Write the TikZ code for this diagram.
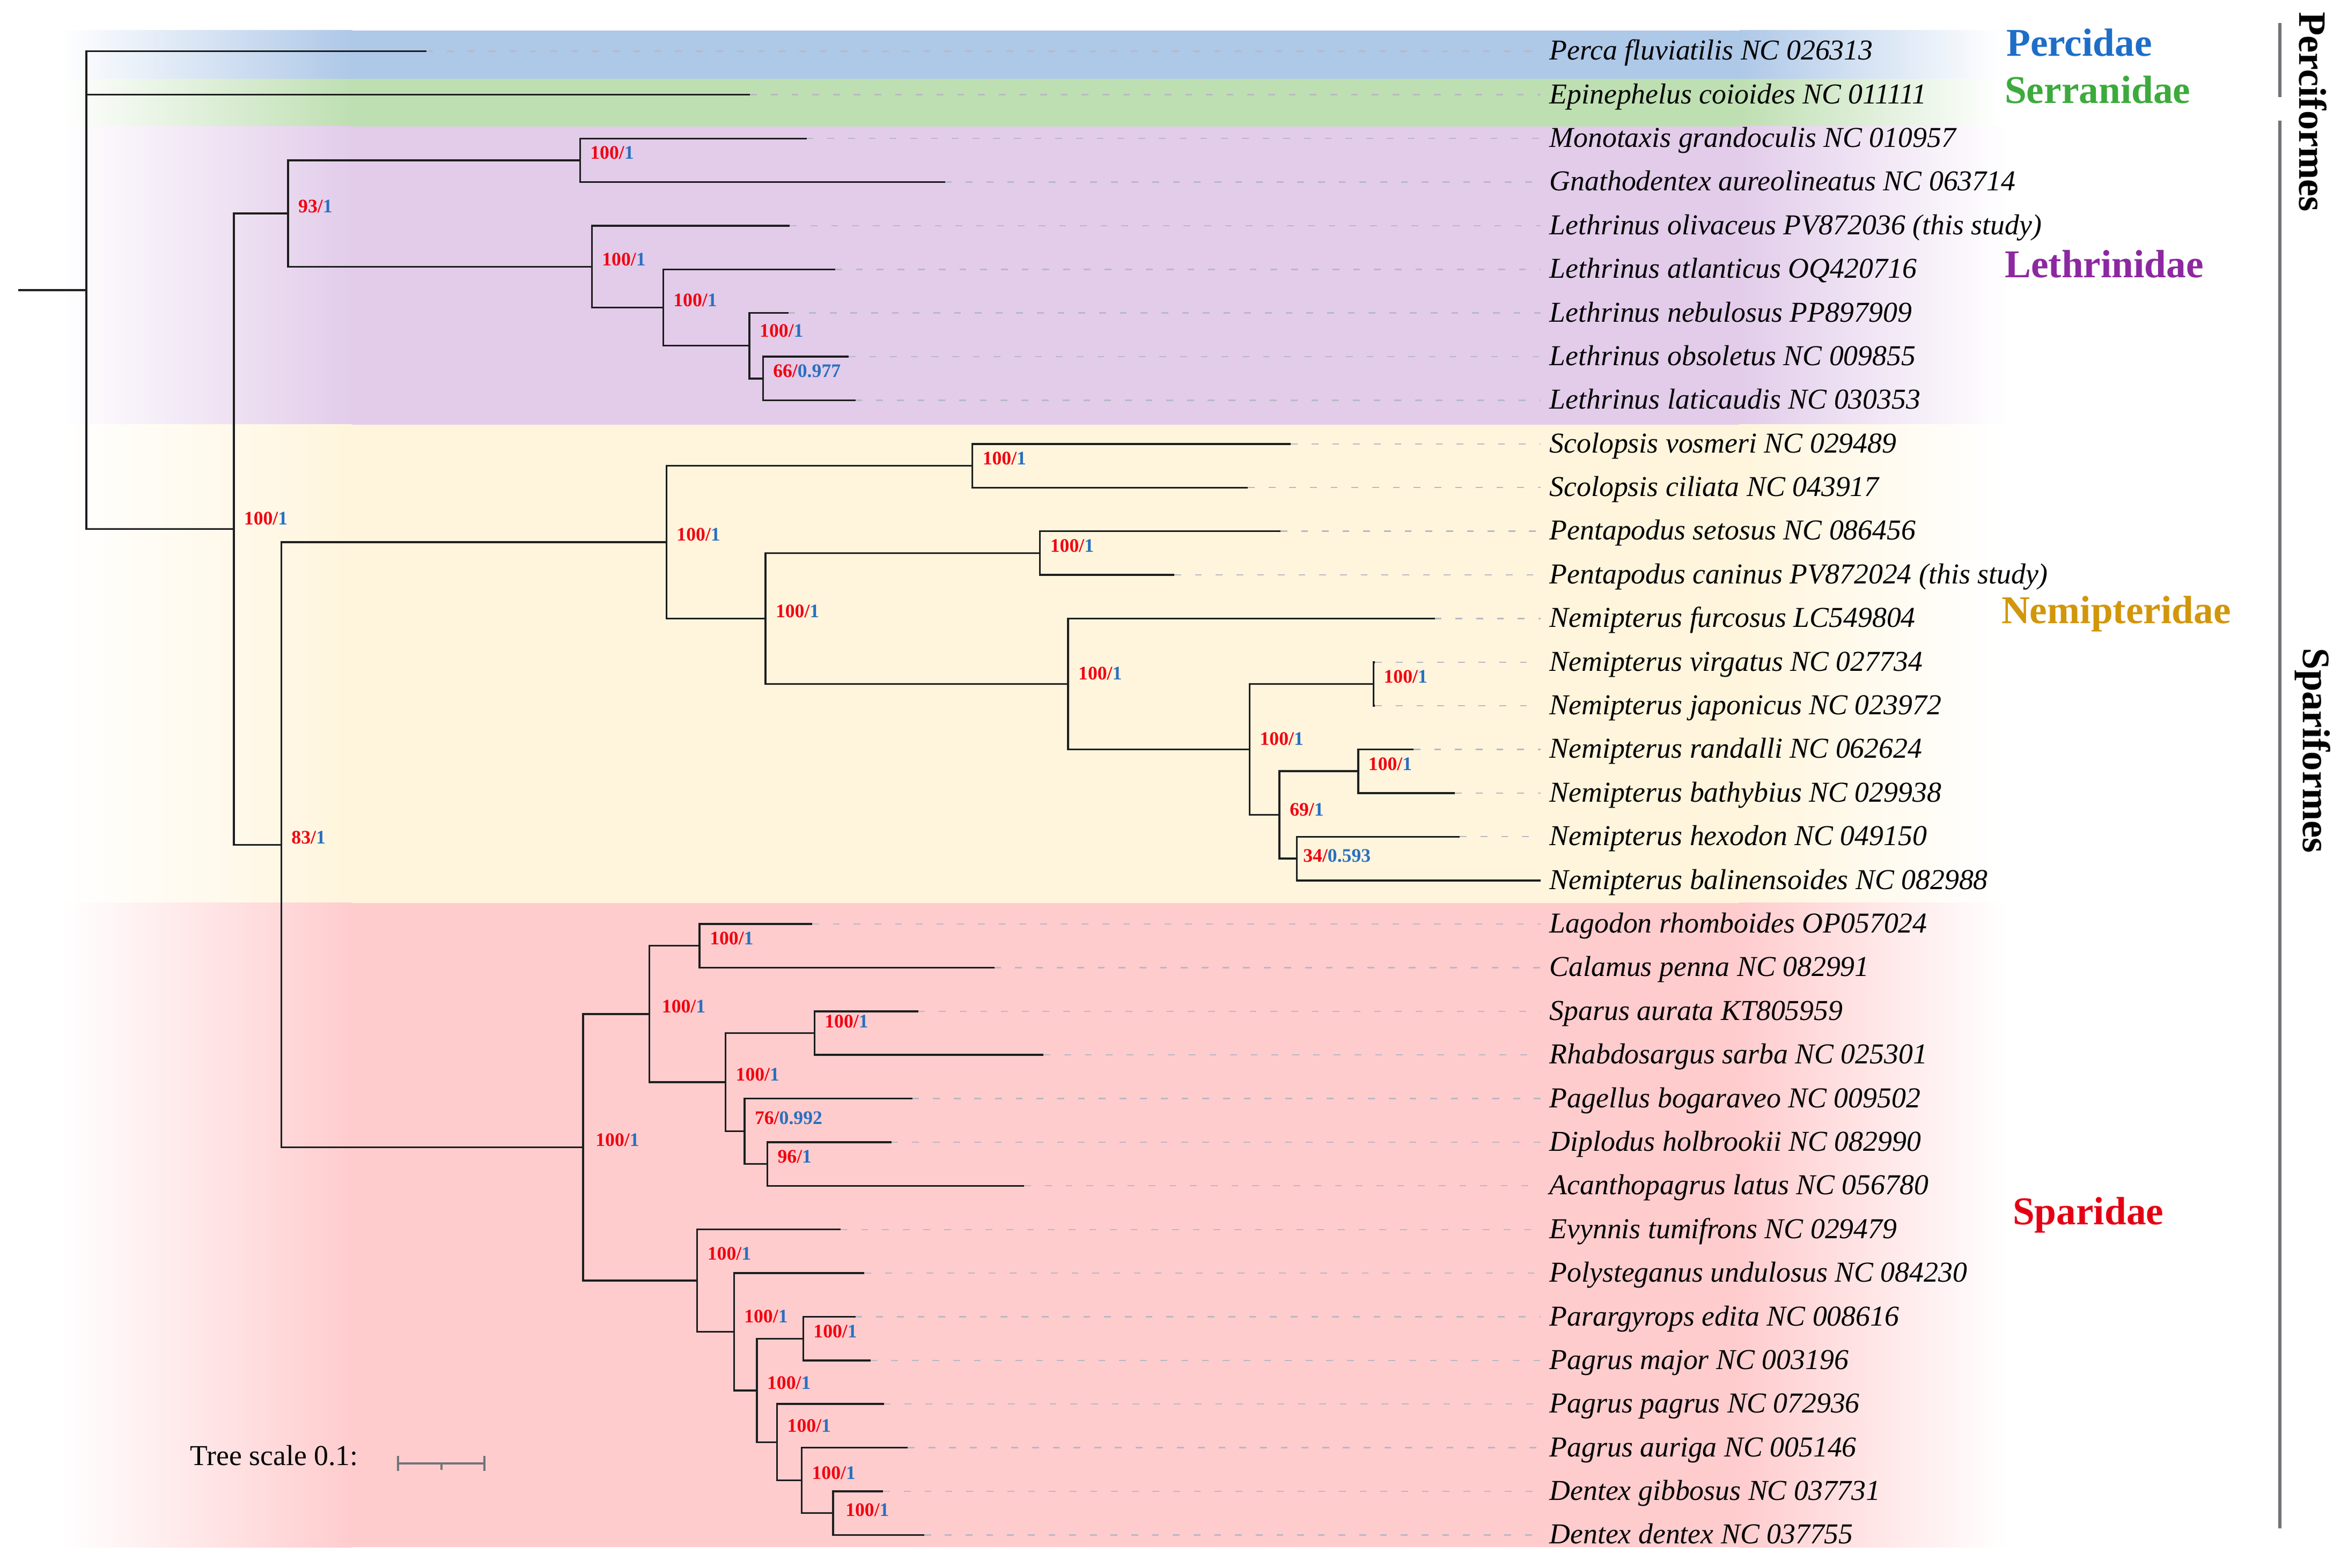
\documentclass[tikz,border=0pt]{standalone}
\usepackage{fontspec}
\setmainfont{Liberation Serif}
\usetikzlibrary{calc}
\definecolor{percblue}{RGB}{174,200,232}
\definecolor{serrgreen}{RGB}{190,223,178}
\definecolor{lethpurple}{RGB}{226,204,234}
\definecolor{nemiyellow}{RGB}{255,245,220}
\definecolor{sparpink}{RGB}{255,204,206}
\definecolor{percidaeblue}{RGB}{30,110,200}
\definecolor{serranidaegreen}{RGB}{60,170,60}
\definecolor{lethrinidaepurple}{RGB}{140,40,160}
\definecolor{nemipteridaegold}{RGB}{210,150,10}
\definecolor{sparidaered}{RGB}{228,0,20}
\definecolor{bootred}{RGB}{240,0,16}
\definecolor{bootblue}{RGB}{42,111,192}
\definecolor{treeblack}{RGB}{30,30,30}
\definecolor{dashgray}{RGB}{185,185,195}
\definecolor{bargray}{RGB}{115,115,120}
\tikzstyle{branch}=[draw=treeblack,line width=0.7pt]
\tikzstyle{leafdash}=[draw=dashgray,line width=0.5pt,dash pattern=on 2.6pt off 5.3pt]
\tikzstyle{leaflabel}=[anchor=base west,inner xsep=0.11cm,inner ysep=0pt,yshift=-0.118cm,font=\fontsize{11}{13}\selectfont\itshape]
\tikzstyle{bootlabel}=[anchor=base west,inner sep=0pt,xshift=0.13cm,yshift=0.015cm,font=\fontsize{7.3}{8}\selectfont\bfseries]
\tikzstyle{bootup}=[yshift=0.1cm]
\tikzstyle{bootdown}=[yshift=-0.06cm]
\tikzstyle{cladelabel}=[anchor=base west,inner sep=0pt,font=\fontsize{15}{17}\selectfont\bfseries]
\tikzstyle{orderlabel}=[rotate=-90,inner sep=0pt,font=\fontsize{14.8}{17}\selectfont\bfseries]
\tikzstyle{orderbar}=[draw=bargray,line width=1.4pt]
\tikzstyle{scalebar}=[draw=bargray,line width=0.8pt]
\newcommand{\bval}[2]{\textcolor{bootred}{#1/}\textcolor{bootblue}{#2}}

\begin{document}
\begin{tikzpicture}[x=0.02cm,y=-0.02cm]
\useasboundingbox (0,0) rectangle (1568,1050.6);

% family bands
\shade[left color=white,right color=percblue] (40,20.4) rectangle (236,53);
\fill[percblue] (235,20.4) rectangle (1166,53);
\shade[left color=percblue,right color=white] (1165,20.4) rectangle (1340,53);
\shade[left color=white,right color=serrgreen] (40,53) rectangle (236,84.7);
\fill[serrgreen] (235,53) rectangle (1166,84.7);
\shade[left color=serrgreen,right color=white] (1165,53) rectangle (1340,84.7);
\shade[left color=white,right color=lethpurple] (40,84.7) rectangle (236,284.4);
\fill[lethpurple] (235,84.7) rectangle (1166,284.4);
\shade[left color=lethpurple,right color=white] (1165,84.7) rectangle (1345,284.4);
\shade[left color=white,right color=nemiyellow] (40,284.4) rectangle (236,605);
\fill[nemiyellow] (235,284.4) rectangle (1166,605);
\shade[left color=nemiyellow,right color=white] (1165,284.4) rectangle (1340,605);
\shade[left color=white,right color=sparpink] (40,605) rectangle (236,1036.6);
\fill[sparpink] (235,605) rectangle (1166,1036.6);
\shade[left color=sparpink,right color=white] (1165,605) rectangle (1345,1036.6);

% leaf tips
\coordinate (T0) at (285.5,34.3);
\coordinate (T1) at (502.4,63.5);
\coordinate (T2) at (540.3,92.8);
\coordinate (T3) at (633,122.0);
\coordinate (T4) at (529,151.3);
\coordinate (T5) at (559.4,180.5);
\coordinate (T6) at (528,209.7);
\coordinate (T7) at (568.4,239.0);
\coordinate (T8) at (573,268.2);
\coordinate (T9) at (864.6,297.5);
\coordinate (T10) at (835.8,326.7);
\coordinate (T11) at (857.6,355.9);
\coordinate (T12) at (786.5,385.2);
\coordinate (T13) at (961,414.4);
\coordinate (T14) at (921,443.7);
\coordinate (T15) at (921,472.9);
\coordinate (T16) at (946.8,502.1);
\coordinate (T17) at (974.5,531.4);
\coordinate (T18) at (977.8,560.6);
\coordinate (T19) at (1032,589.9);
\coordinate (T20) at (544,619.1);
\coordinate (T21) at (666,648.3);
\coordinate (T22) at (615,677.6);
\coordinate (T23) at (699,706.8);
\coordinate (T24) at (611,736.1);
\coordinate (T25) at (597,765.3);
\coordinate (T26) at (686,794.5);
\coordinate (T27) at (563,823.8);
\coordinate (T28) at (579,853.0);
\coordinate (T29) at (573,882.3);
\coordinate (T30) at (583,911.5);
\coordinate (T31) at (592,940.7);
\coordinate (T32) at (608,970.0);
\coordinate (T33) at (591.5,999.2);
\coordinate (T34) at (619,1028.5);

% internal nodes
\coordinate (ROOTSTUB) at (12.3,194.4);
\coordinate (ROOT) at (57.8,194.4);
\coordinate (NIN) at (156.6,354.5);
\coordinate (NLET) at (193,143.05);
\coordinate (NMG) at (388.5,107.4);
\coordinate (NL1) at (396.4,178.7);
\coordinate (NL2) at (444.2,206.1);
\coordinate (NL3) at (502,231.65);
\coordinate (NL4) at (511,253.6);
\coordinate (N83) at (188.4,566);
\coordinate (NNEM) at (446.4,363.25);
\coordinate (NSC) at (651.3,312.1);
\coordinate (NPN) at (512.7,414.4);
\coordinate (NPE) at (696.6,370.55);
\coordinate (NN1) at (715.4,458.3);
\coordinate (NN2) at (837,502.15);
\coordinate (NVJ) at (920,458.3);
\coordinate (N69) at (857,546);
\coordinate (NRB) at (909.7,516.75);
\coordinate (NHB) at (868.5,575.25);
\coordinate (NSPA) at (390.6,768.7);
\coordinate (NA) at (435,679.4);
\coordinate (NLC) at (468.6,633.7);
\coordinate (NSP) at (486,725.1);
\coordinate (NSR) at (545.5,692.2);
\coordinate (NPD) at (498.7,758);
\coordinate (NDA) at (514,779.9);
\coordinate (NB) at (467,858.05);
\coordinate (NPO) at (491.6,892.3);
\coordinate (NPA) at (507,931.6);
\coordinate (NPM) at (538,896.9);
\coordinate (NPG) at (520.5,966.3);
\coordinate (NAU) at (537,991.9);
\coordinate (NDD) at (558,1013.85);

% branches
\draw[branch] (ROOTSTUB) -- (ROOT);
\draw[branch] (T0) -| (ROOT) |- (NIN);
\draw[branch] (ROOT |- T1) -- (T1);
\draw[branch] (NLET) -| (NIN) |- (N83);
\draw[branch] (NMG) -| (NLET) |- (NL1);
\draw[branch] (T2) -| (NMG) |- (T3);
\draw[branch] (T4) -| (NL1) |- (NL2);
\draw[branch] (T5) -| (NL2) |- (NL3);
\draw[branch] (T6) -| (NL3) |- (NL4);
\draw[branch] (T7) -| (NL4) |- (T8);
\draw[branch] (NNEM) -| (N83) |- (NSPA);
\draw[branch] (NSC) -| (NNEM) |- (NPN);
\draw[branch] (T9) -| (NSC) |- (T10);
\draw[branch] (NPE) -| (NPN) |- (NN1);
\draw[branch] (T11) -| (NPE) |- (T12);
\draw[branch] (T13) -| (NN1) |- (NN2);
\draw[branch] (NVJ) -| (NN2) |- (N69);
\draw[branch] (T14) -| (NVJ) |- (T15);
\draw[branch] (NRB) -| (N69) |- (NHB);
\draw[branch] (T16) -| (NRB) |- (T17);
\draw[branch] (T18) -| (NHB) |- (T19);
\draw[branch] (NA) -| (NSPA) |- (NB);
\draw[branch] (NLC) -| (NA) |- (NSP);
\draw[branch] (T20) -| (NLC) |- (T21);
\draw[branch] (NSR) -| (NSP) |- (NPD);
\draw[branch] (T22) -| (NSR) |- (T23);
\draw[branch] (T24) -| (NPD) |- (NDA);
\draw[branch] (T25) -| (NDA) |- (T26);
\draw[branch] (T27) -| (NB) |- (NPO);
\draw[branch] (T28) -| (NPO) |- (NPA);
\draw[branch] (NPM) -| (NPA) |- (NPG);
\draw[branch] (T29) -| (NPM) |- (T30);
\draw[branch] (T31) -| (NPG) |- (NAU);
\draw[branch] (T32) -| (NAU) |- (NDD);
\draw[branch] (T33) -| (NDD) |- (T34);

% support values
\node[bootlabel,yshift=0.04cm] (BIN) at (NIN) {\bval{100}{1}};
\node[bootlabel] (BLET) at (NLET) {\bval{93}{1}};
\node[bootlabel] (BMG) at (NMG) {\bval{100}{1}};
\node[bootlabel] (BL1) at (NL1) {\bval{100}{1}};
\node[bootlabel] (BL2) at (NL2) {\bval{100}{1}};
\node[bootlabel,bootup] (BL3) at (NL3) {\bval{100}{1}};
\node[bootlabel] (BL4) at (NL4) {\bval{66}{0.977}};
\node[bootlabel] (B83) at (N83) {\bval{83}{1}};
\node[bootlabel] (BNEM) at (NNEM) {\bval{100}{1}};
\node[bootlabel] (BSC) at (NSC) {\bval{100}{1}};
\node[bootlabel] (BPN) at (NPN) {\bval{100}{1}};
\node[bootlabel] (BPE) at (NPE) {\bval{100}{1}};
\node[bootlabel,yshift=0.04cm] (BN1) at (NN1) {\bval{100}{1}};
\node[bootlabel,yshift=0.04cm] (BN2) at (NN2) {\bval{100}{1}};
\node[bootlabel] (BVJ) at (NVJ) {\bval{100}{1}};
\node[bootlabel,yshift=-0.03cm] (B69) at (N69) {\bval{69}{1}};
\node[bootlabel] (BRB) at (NRB) {\bval{100}{1}};
\node[bootlabel,bootdown,xshift=-0.05cm] (BHB) at (NHB) {\bval{34}{0.593}};
\node[bootlabel,xshift=0.03cm] (BSPA) at (NSPA) {\bval{100}{1}};
\node[bootlabel,xshift=0.03cm] (BA) at (NA) {\bval{100}{1}};
\node[bootlabel] (BLC) at (NLC) {\bval{100}{1}};
\node[bootlabel] (BSP) at (NSP) {\bval{100}{1}};
\node[bootlabel,yshift=0.06cm] (BSR) at (NSR) {\bval{100}{1}};
\node[bootlabel,yshift=0.08cm] (BPD) at (NPD) {\bval{76}{0.992}};
\node[bootlabel] (BDA) at (NDA) {\bval{96}{1}};
\node[bootlabel,yshift=0.26cm] (BB) at (NB) {\bval{100}{1}};
\node[bootlabel,yshift=0.11cm] (BPO) at (NPO) {\bval{100}{1}};
\node[bootlabel] (BPA) at (NPA) {\bval{100}{1}};
\node[bootlabel] (BPM) at (NPM) {\bval{100}{1}};
\node[bootlabel,yshift=0.12cm] (BPG) at (NPG) {\bval{100}{1}};
\node[bootlabel] (BAU) at (NAU) {\bval{100}{1}};
\node[bootlabel,bootdown,xshift=0.03cm] (BDD) at (NDD) {\bval{100}{1}};

% leaf labels
\node[leaflabel] (L0) at (1032,34.3) {Perca fluviatilis NC 026313};
\node[leaflabel] (L1) at (1032,63.5) {Epinephelus coioides NC 011111};
\node[leaflabel] (L2) at (1032,92.8) {Monotaxis grandoculis NC 010957};
\node[leaflabel] (L3) at (1032,122.0) {Gnathodentex aureolineatus NC 063714};
\node[leaflabel] (L4) at (1032,151.3) {Lethrinus olivaceus PV872036 (this study)};
\node[leaflabel] (L5) at (1032,180.5) {Lethrinus atlanticus OQ420716};
\node[leaflabel] (L6) at (1032,209.7) {Lethrinus nebulosus PP897909};
\node[leaflabel] (L7) at (1032,239.0) {Lethrinus obsoletus NC 009855};
\node[leaflabel] (L8) at (1032,268.2) {Lethrinus laticaudis NC 030353};
\node[leaflabel] (L9) at (1032,297.5) {Scolopsis vosmeri NC 029489};
\node[leaflabel] (L10) at (1032,326.7) {Scolopsis ciliata NC 043917};
\node[leaflabel] (L11) at (1032,355.9) {Pentapodus setosus NC 086456};
\node[leaflabel] (L12) at (1032,385.2) {Pentapodus caninus PV872024 (this study)};
\node[leaflabel] (L13) at (1032,414.4) {Nemipterus furcosus LC549804};
\node[leaflabel] (L14) at (1032,443.7) {Nemipterus virgatus NC 027734};
\node[leaflabel] (L15) at (1032,472.9) {Nemipterus japonicus NC 023972};
\node[leaflabel] (L16) at (1032,502.1) {Nemipterus randalli NC 062624};
\node[leaflabel] (L17) at (1032,531.4) {Nemipterus bathybius NC 029938};
\node[leaflabel] (L18) at (1032,560.6) {Nemipterus hexodon NC 049150};
\node[leaflabel] (L19) at (1032,589.9) {Nemipterus balinensoides NC 082988};
\node[leaflabel] (L20) at (1032,619.1) {Lagodon rhomboides OP057024};
\node[leaflabel] (L21) at (1032,648.3) {Calamus penna NC 082991};
\node[leaflabel] (L22) at (1032,677.6) {Sparus aurata KT805959};
\node[leaflabel] (L23) at (1032,706.8) {Rhabdosargus sarba NC 025301};
\node[leaflabel] (L24) at (1032,736.1) {Pagellus bogaraveo NC 009502};
\node[leaflabel] (L25) at (1032,765.3) {Diplodus holbrookii NC 082990};
\node[leaflabel] (L26) at (1032,794.5) {Acanthopagrus latus NC 056780};
\node[leaflabel] (L27) at (1032,823.8) {Evynnis tumifrons NC 029479};
\node[leaflabel] (L28) at (1032,853.0) {Polysteganus undulosus NC 084230};
\node[leaflabel] (L29) at (1032,882.3) {Parargyrops edita NC 008616};
\node[leaflabel] (L30) at (1032,911.5) {Pagrus major NC 003196};
\node[leaflabel] (L31) at (1032,940.7) {Pagrus pagrus NC 072936};
\node[leaflabel] (L32) at (1032,970.0) {Pagrus auriga NC 005146};
\node[leaflabel] (L33) at (1032,999.2) {Dentex gibbosus NC 037731};
\node[leaflabel] (L34) at (1032,1028.5) {Dentex dentex NC 037755};

% tip to label guides
\draw[leafdash] (T0) -- (T0 -| L0.west);
\draw[leafdash] (T1) -- (T1 -| L1.west);
\draw[leafdash] (T2) -- (T2 -| L2.west);
\draw[leafdash] (T3) -- (T3 -| L3.west);
\draw[leafdash] (T4) -- (T4 -| L4.west);
\draw[leafdash] (T5) -- (T5 -| L5.west);
\draw[leafdash] (T6) -- (T6 -| L6.west);
\draw[leafdash] (T7) -- (T7 -| L7.west);
\draw[leafdash] (T8) -- (T8 -| L8.west);
\draw[leafdash] (T9) -- (T9 -| L9.west);
\draw[leafdash] (T10) -- (T10 -| L10.west);
\draw[leafdash] (T11) -- (T11 -| L11.west);
\draw[leafdash] (T12) -- (T12 -| L12.west);
\draw[leafdash] (T13) -- (T13 -| L13.west);
\draw[leafdash] (T14) -- (T14 -| L14.west);
\draw[leafdash] (T15) -- (T15 -| L15.west);
\draw[leafdash] (T16) -- (T16 -| L16.west);
\draw[leafdash] (T17) -- (T17 -| L17.west);
\draw[leafdash] (T18) -- (T18 -| L18.west);
\draw[leafdash] (T20) -- (T20 -| L20.west);
\draw[leafdash] (T21) -- (T21 -| L21.west);
\draw[leafdash] (T22) -- (T22 -| L22.west);
\draw[leafdash] (T23) -- (T23 -| L23.west);
\draw[leafdash] (T24) -- (T24 -| L24.west);
\draw[leafdash] (T25) -- (T25 -| L25.west);
\draw[leafdash] (T26) -- (T26 -| L26.west);
\draw[leafdash] (T27) -- (T27 -| L27.west);
\draw[leafdash] (T28) -- (T28 -| L28.west);
\draw[leafdash] (T29) -- (T29 -| L29.west);
\draw[leafdash] (T30) -- (T30 -| L30.west);
\draw[leafdash] (T31) -- (T31 -| L31.west);
\draw[leafdash] (T32) -- (T32 -| L32.west);
\draw[leafdash] (T33) -- (T33 -| L33.west);
\draw[leafdash] (T34) -- (T34 -| L34.west);

% family names
\node[cladelabel,text=percidaeblue] (PERCIDAE) at (1343.5,37.5) {Percidae};
\node[cladelabel,text=serranidaegreen] (SERRANIDAE) at (1342.4,69.1) {Serranidae};
\node[cladelabel,text=lethrinidaepurple] (LETHRINIDAE) at (1342.4,185.9) {Lethrinidae};
\node[cladelabel,text=nemipteridaegold] (NEMIPTERIDAE) at (1340.2,417.6) {Nemipteridae};
\node[cladelabel,text=sparidaered] (SPARIDAE) at (1347.8,820.4) {Sparidae};

% orders
\draw[orderbar] (1527,15.5) -- (1527,65);
\draw[orderbar] (1527,80.8) -- (1527,1024);
\node[orderlabel] (PERCIFORMES) at (1549,75) {Perciformes};
\node[orderlabel] (SPARIFORMES) at (1549,503) {Spariformes};

% tree scale
\node[anchor=base west,inner sep=0pt,font=\fontsize{11}{13}\selectfont] (SCALETEXT) at (127,981.7) {Tree scale 0.1:};
\coordinate (SB1) at (266.7,980.5);
\coordinate (SB2) at (324.5,980.5);
\draw[scalebar] (SB1) -- (SB2);
\draw[scalebar] ($(SB1)+(0,-5)$) -- ($(SB1)+(0,5)$);
\draw[scalebar] ($(SB2)+(0,-5)$) -- ($(SB2)+(0,5)$);
\draw[scalebar] ($(SB1)!0.5!(SB2)$) -- ++(0,4.5);

\end{tikzpicture}
\end{document}
